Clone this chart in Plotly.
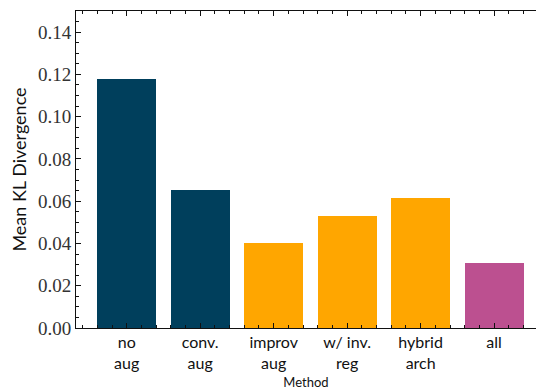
import plotly.graph_objects as go

# Mean KL divergence per training method
methods = ["no<br>aug", "conv.<br>aug", "improv<br>aug", "w/ inv.<br>reg", "hybrid<br>arch", "all"]
kl_values = [0.1177, 0.0652, 0.0403, 0.0531, 0.0616, 0.0307]
bar_colors = ["#003f5c", "#003f5c", "#ffa600", "#ffa600", "#ffa600", "#bc5090"]

positions = list(range(len(methods)))

fig = go.Figure(
    go.Bar(
        x=positions,
        y=kl_values,
        width=0.8,
        marker=dict(color=bar_colors, line=dict(width=0)),
        showlegend=False,
    )
)

serif = "'Liberation Serif', 'DejaVu Serif', serif"
sans = "Lato, 'Open Sans', sans-serif"

fig.update_layout(
    width=536,
    height=390,
    margin=dict(l=76, r=0, t=11, b=62),
    plot_bgcolor="white",
    paper_bgcolor="white",
    bargap=0,
)

fig.update_xaxes(
    range=[-0.69, 5.57],
    tickmode="array",
    tickvals=positions,
    ticktext=methods,
    tickfont=dict(family=sans, size=16, color="#111"),
    ticks="inside",
    ticklen=5,
    tickwidth=1,
    tickcolor="#111",
    showline=True,
    linecolor="#111",
    linewidth=1,
    mirror="ticks",
    showgrid=False,
    zeroline=False,
    minor=dict(tickmode="linear", tick0=0, dtick=0.2, ticks="inside", ticklen=3,
               tickcolor="#111", showgrid=False),
    title=dict(text="Method", font=dict(family=sans, size=13, color="#111"), standoff=6),
)

fig.update_yaxes(
    range=[0, 0.15],
    tickmode="linear",
    tick0=0,
    dtick=0.02,
    tickformat=".2f",
    tickfont=dict(family=serif, size=19, color="#333"),
    ticks="inside",
    ticklen=5,
    tickwidth=1,
    tickcolor="#111",
    showline=True,
    linecolor="#111",
    linewidth=1,
    mirror=False,
    showgrid=False,
    zeroline=False,
    minor=dict(tickmode="linear", tick0=0, dtick=0.005, ticks="inside", ticklen=3,
               tickcolor="#111", showgrid=False),
    title=dict(text="Mean KL Divergence", font=dict(family=sans, size=18, color="#111"), standoff=6),
)

fig.write_html("out.html")
